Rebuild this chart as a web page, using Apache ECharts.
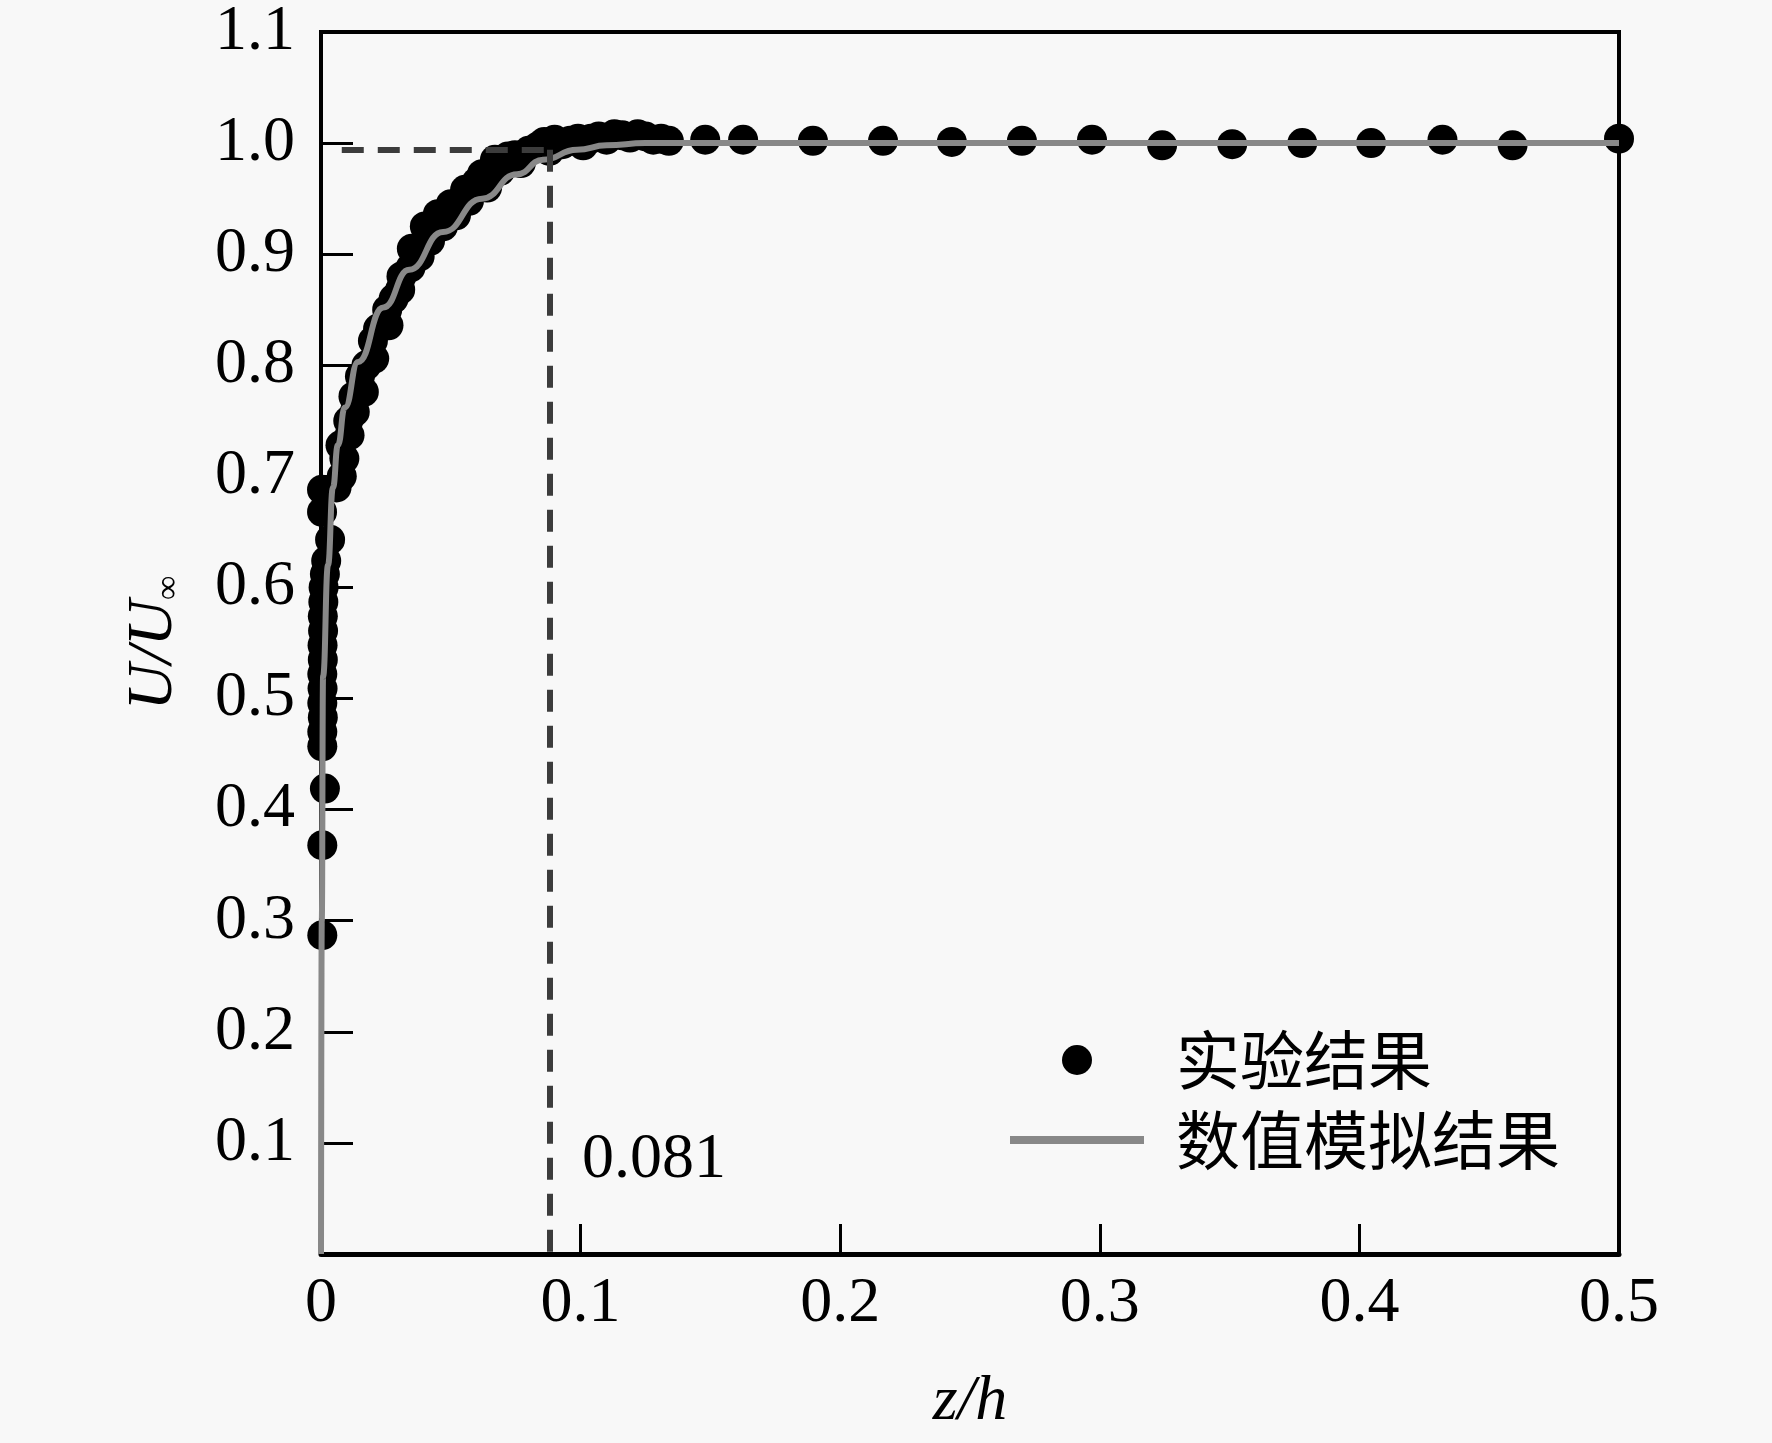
<!DOCTYPE html>
<html>
<head>
<meta charset="utf-8">
<script src="https://cdn.jsdelivr.net/npm/echarts@6/dist/echarts.min.js"></script>
<style>
html,body{margin:0;padding:0;background:#f8f8f8;}
#chart{width:1772px;height:1443px;}
</style>
</head>
<body>
<div id="chart"></div>
<script>
// ---- data ----
const seriesNames = ['实验结果', '数值模拟结果'];

// experimental points [z/h, U/U∞]
const experimentPoints = [
  [0.0005,0.287],[0.0005,0.368],[0.0015,0.419],[0.0005,0.457],[0.0005,0.470],[0.0007,0.483],
  [0.0005,0.496],[0.0006,0.509],[0.0005,0.522],[0.0007,0.535],[0.0006,0.548],[0.0008,0.561],
  [0.0007,0.574],[0.0009,0.587],[0.0010,0.600],[0.0015,0.612],[0.0020,0.624],[0.0035,0.643],
  [0.0004,0.668],[0.0004,0.688],[0.0060,0.690],[0.0080,0.700],[0.0090,0.716],[0.0075,0.728],
  [0.0110,0.737],[0.0105,0.750],[0.0130,0.758],[0.0125,0.772],[0.0165,0.776],[0.0150,0.790],
  [0.0175,0.800],[0.0205,0.806],[0.0200,0.822],[0.0220,0.833],[0.0260,0.836],[0.0255,0.850],
  [0.0280,0.860],[0.0305,0.868],[0.0310,0.880],[0.0345,0.888],[0.0350,0.905],[0.0380,0.898],
  [0.0400,0.925],[0.0420,0.912],[0.0450,0.936],[0.0470,0.925],[0.0500,0.945],[0.0520,0.935],
  [0.0555,0.958],[0.0570,0.948],[0.0600,0.965],[0.0620,0.972],[0.0640,0.960],[0.0670,0.985],
  [0.0690,0.975],[0.0720,0.988],[0.0747,0.989],[0.0770,0.982],[0.0800,0.993],[0.0836,0.997],
  [0.0860,1.001],[0.0880,0.993],[0.0900,1.003],[0.0930,0.999],[0.0960,1.002],[0.0990,1.004],
  [0.1010,0.998],[0.1040,1.004],[0.1070,1.006],[0.1100,1.003],[0.1130,1.008],[0.1160,1.007],
  [0.1190,1.005],[0.1220,1.008],[0.1250,1.006],[0.1280,1.003],[0.1310,1.004],[0.1340,1.002],
  [0.1480,1.003],[0.1626,1.003],[0.1895,1.002],[0.2165,1.002],[0.2430,1.001],[0.2700,1.002],
  [0.2970,1.003],[0.3240,0.998],[0.3510,0.999],[0.3780,1.000],[0.4045,1.000],[0.4320,1.003],
  [0.4590,0.998],[0.5000,1.004]
];

// numerical simulation curve [z/h, U/U∞]
const simulationCurve = [
  [0,0],[0.0003,0.30],[0.0008,0.52],[0.0027,0.62],[0.0046,0.69],[0.0065,0.728],[0.0092,0.762],
  [0.0143,0.803],[0.024,0.852],[0.034,0.886],[0.047,0.920],[0.062,0.950],[0.0755,0.972],
  [0.0855,0.985],[0.0986,0.994],[0.11,0.998],[0.125,1.0],[0.2,1.0],[0.3,1.0],[0.4,1.0],[0.5,1.0]
];

// reference (dashed) lines and annotation
const thicknessZ = 0.088;      // position of vertical dashed line
const thicknessU = 0.994;      // level of horizontal dashed line
const dashStartZ = 0.008;
const annotationText = '0.081';
const annotationPos = [0.1005, 0.0845];

const xAxisRange = {min: 0, max: 0.5, interval: 0.1};
const yAxisRange = {min: 0, max: 1.1, interval: 0.1};

// ---- chart ----
const serif = 'Liberation Serif';
const cjk = 'Noto Sans CJK SC';
const chart = echarts.init(document.getElementById('chart'), null, {renderer: 'canvas'});

chart.setOption({
  backgroundColor: '#f8f8f8',
  animation: false,
  grid: {
    left: 321, right: 153, top: 30, bottom: 189,
    show: true, borderColor: '#000', borderWidth: 4, backgroundColor: 'transparent'
  },
  legend: {
    orient: 'vertical',
    left: 1006, top: 1028,
    padding: 0,
    itemWidth: 134, itemHeight: 30, itemGap: 16,
    data: [
      {name: seriesNames[0], icon: 'circle', itemStyle: {color: '#000', opacity: 1}},
      {name: seriesNames[1], itemStyle: {opacity: 0}}
    ],
    lineStyle: {width: 8, color: '#888'},
    formatter: n => '{t|' + n + '}',
    textStyle: {
      rich: {t: {fontFamily: cjk, fontSize: 64, lineHeight: 64, color: '#000', padding: [0,0,0,27]}}
    }
  },
  xAxis: {
    type: 'value',
    min: xAxisRange.min, max: xAxisRange.max, interval: xAxisRange.interval,
    name: 'z/h',
    nameLocation: 'middle',
    nameGap: 116,
    nameTextStyle: {fontFamily: serif, fontStyle: 'italic', fontSize: 64, color: '#000'},
    axisLine: {lineStyle: {color: '#000', width: 5}},
    axisTick: {inside: true, length: 30, lineStyle: {color: '#000', width: 3}},
    axisLabel: {
      margin: 18, fontFamily: serif, fontSize: 64, color: '#000',
      formatter: v => (Math.abs(v) < 1e-9 ? '0' : v.toFixed(1))
    },
    splitLine: {show: false}
  },
  yAxis: {
    type: 'value',
    min: yAxisRange.min, max: yAxisRange.max, interval: yAxisRange.interval,
    name: '{u|U/U}{s|∞}',
    nameLocation: 'middle',
    nameGap: 135,
    nameTextStyle: {
      color: '#000',
      rich: {
        u: {fontFamily: serif, fontStyle: 'italic', fontSize: 64, color: '#000'},
        s: {fontFamily: serif, fontSize: 34, color: '#000', verticalAlign: 'bottom'}
      }
    },
    axisLine: {lineStyle: {color: '#000', width: 4}},
    axisTick: {inside: true, length: 32, lineStyle: {color: '#000', width: 3}},
    axisLabel: {
      margin: 26, fontFamily: serif, fontSize: 64, color: '#000',
      formatter: v => (Math.abs(v) < 1e-9 ? '' : v.toFixed(1))
    },
    splitLine: {show: false}
  },
  series: [
    {
      name: 'guides',
      type: 'line',
      data: [],
      z: 1,
      silent: true,
      markLine: {
        silent: true,
        symbol: 'none',
        label: {show: false},
        lineStyle: {color: '#3c3c3c', width: 6, type: [22, 14], opacity: 1},
        data: [
          [{coord: [dashStartZ, thicknessU]}, {coord: [thicknessZ, thicknessU]}],
          [{coord: [thicknessZ, thicknessU]}, {coord: [thicknessZ, 0]}]
        ]
      },
      markPoint: {
        symbol: 'circle',
        symbolSize: 0,
        silent: true,
        label: {
          show: true, position: 'inside', align: 'left', verticalAlign: 'middle',
          formatter: annotationText, fontFamily: serif, fontSize: 64, color: '#000'
        },
        data: [{coord: annotationPos}]
      }
    },
    {
      name: seriesNames[0],
      type: 'scatter',
      data: experimentPoints,
      symbol: 'circle',
      symbolSize: 30,
      itemStyle: {color: '#000', opacity: 1},
      z: 2
    },
    {
      name: seriesNames[1],
      type: 'line',
      data: simulationCurve,
      symbol: 'none',
      smooth: 0.5,
      smoothMonotone: 'x',
      lineStyle: {color: '#888', width: 6},
      itemStyle: {color: '#888'},
      z: 3
    }
  ]
});
</script>
</body>
</html>
